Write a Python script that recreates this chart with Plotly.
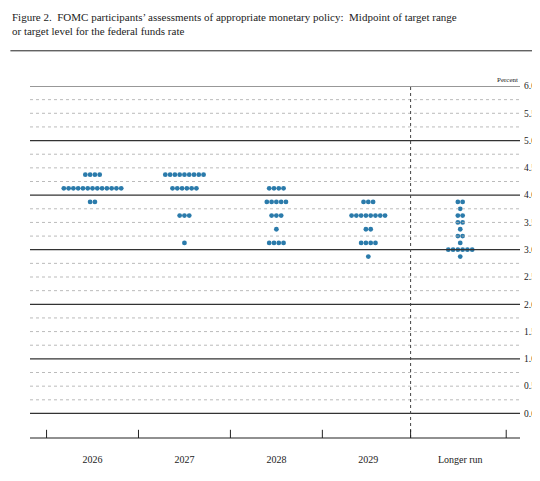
import plotly.graph_objects as go

years = ["2026", "2027", "2028", "2029", "Longer run"]
# (rate, count) per column
dots = [
    [(4.375, 4), (4.125, 13), (3.875, 2)],
    [(4.375, 9), (4.125, 6), (3.625, 3), (3.125, 1)],
    [(4.125, 4), (3.875, 5), (3.625, 3), (3.375, 1), (3.125, 4)],
    [(3.875, 3), (3.625, 8), (3.375, 2), (3.125, 4), (2.875, 1)],
    [(3.875, 2), (3.75, 1), (3.625, 2), (3.5, 2), (3.375, 1), (3.25, 2), (3.125, 1), (3.0, 6), (2.875, 1)],
]
ytick_vals = [0, 0.5, 1, 1.5, 2, 2.5, 3, 3.5, 4, 4.5, 5, 5.5, 6]

SERIF = "Liberation Serif"
BLUE = "#2b7bab"
step = 0.052

xs, ys = [], []
for i, col in enumerate(dots):
    for rate, n in col:
        for k in range(n):
            xs.append(i + (k - (n - 1) / 2) * step)
            ys.append(rate)

fig = go.Figure(go.Scatter(x=xs, y=ys, mode="markers",
                           marker=dict(color=BLUE, size=4.8), hoverinfo="skip"))

shapes = []
for j in range(25):
    v = j * 0.25
    solid = v == int(v)
    shapes.append(dict(type="line", xref="paper", x0=0, x1=1, y0=v, y1=v,
                       line=dict(color="#333" if solid else "#aaa",
                                 width=1.2 if solid else 0.8,
                                 dash="solid" if solid else "dot")))
# separator
shapes.append(dict(type="line", x0=3.46, x1=3.46, yref="paper", y0=0, y1=1,
                   line=dict(color="#444", width=1, dash="dot")))
# bottom axis
shapes.append(dict(type="line", xref="paper", x0=0, x1=1, yref="paper", y0=0, y1=0,
                   line=dict(color="#222", width=1.2)))
for t in [-0.5, 0.5, 1.5, 2.5, 3.46, 4.5]:
    shapes.append(dict(type="line", x0=t, x1=t, y0=-0.45, y1=-0.3,
                       line=dict(color="#222", width=1)))
# title rule
shapes.append(dict(type="line", xref="paper", yref="paper", x0=-0.04, x1=1.05,
                   y0=1.1, y1=1.1, line=dict(color="#222", width=1)))

fig.update_layout(
    width=540, height=481, plot_bgcolor="white", paper_bgcolor="white",
    margin=dict(l=22, r=25, t=78, b=51), showlegend=False, shapes=shapes,
    font=dict(family=SERIF, size=10, color="#222"),
    xaxis=dict(range=[-0.68, 4.65], tickvals=list(range(5)), ticktext=years,
               showgrid=False, zeroline=False, ticks="", ticklabelstandoff=14),
    yaxis=dict(range=[-0.45, 6.0], side="right", tickvals=ytick_vals,
               tickformat=".1f", showgrid=False, zeroline=False,
               ticklabelstandoff=3, tickfont=dict(size=9.5)),
    annotations=[
        dict(text="Figure 2.  FOMC participants’ assessments of appropriate monetary policy:  Midpoint of target range<br>or target level for the federal funds rate",
             xref="paper", yref="paper", x=-0.04, y=1.22, xanchor="left", yanchor="top",
             align="left", showarrow=False, font=dict(size=11)),
        dict(text="Percent", xref="paper", x=1.0, y=6.0, xanchor="right", yanchor="bottom",
             showarrow=False, font=dict(size=7)),
    ],
)
fig.write_html("out.html")
